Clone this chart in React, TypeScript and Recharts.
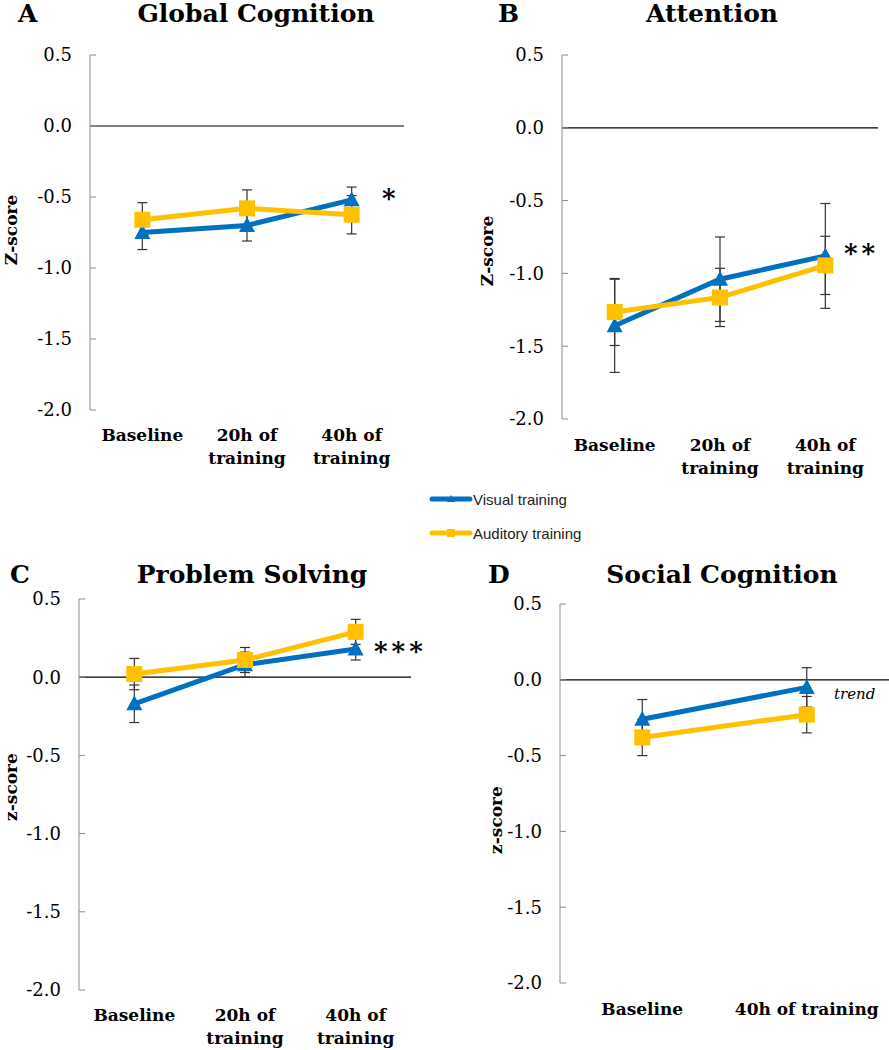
import React from "react";
import { ErrorBar, Line, LineChart, ReferenceLine, XAxis, YAxis } from "recharts";

// 配色与字体（Excel 风格）
const BLUE = "#0070C0";
const GOLD = "#FFC000";
const SERIF = "'DejaVu Serif', serif";

// 横轴类别
const threeTimes = ["Baseline", "20h of\ntraining", "40h of\ntraining"];
const twoTimes = ["Baseline", "40h of training"];
const yTicks = [-2, -1.5, -1, -0.5, 0, 0.5];

// A Global Cognition
const globalVisual = [-0.75, -0.7, -0.52];
const globalVisualErr = [0.12, 0.11, 0.09];
const globalAuditory = [-0.66, -0.58, -0.625];
const globalAuditoryErr = [0.12, 0.13, 0.135];

// B Attention
const attnVisual = [-1.36, -1.04, -0.88];
const attnVisualErr = [0.32, 0.29, 0.36];
const attnAuditory = [-1.265, -1.165, -0.945];
const attnAuditoryErr = [0.23, 0.2, 0.2];

// C Problem Solving
const probVisual = [-0.17, 0.08, 0.18];
const probVisualErr = [0.12, 0.08, 0.07];
const probAuditory = [0.02, 0.11, 0.29];
const probAuditoryErr = [0.1, 0.08, 0.08];

// D Social Cognition
const socialVisual = [-0.26, -0.05];
const socialVisualErr = [0.13, 0.13];
const socialAuditory = [-0.38, -0.23];
const socialAuditoryErr = [0.12, 0.12];

interface Row {
  time: string;
  visual: number;
  visualErr: number;
  auditory: number;
  auditoryErr: number;
}

function buildRows(
  cats: string[],
  vis: number[],
  visErr: number[],
  aud: number[],
  audErr: number[]
): Row[] {
  return cats.map((c, i) => ({
    time: c,
    visual: vis[i],
    visualErr: visErr[i],
    auditory: aud[i],
    auditoryErr: audErr[i],
  }));
}

// 三角形标记（视觉训练）
function TriangleDot(props: any) {
  const { cx, cy, index } = props;
  if (cx == null || cy == null) return <g key={`t-${index}`} />;
  return (
    <path
      key={`t-${index}`}
      d={`M${cx},${cy - 8.5} L${cx + 8},${cy + 6.5} L${cx - 8},${cy + 6.5} Z`}
      fill={BLUE}
    />
  );
}

// 方形标记（听觉训练）
function SquareDot(props: any) {
  const { cx, cy, index } = props;
  if (cx == null || cy == null) return <g key={`s-${index}`} />;
  return <rect key={`s-${index}`} x={cx - 8} y={cy - 8} width={16} height={16} fill={GOLD} />;
}

// 多行横轴标签
function CategoryTick(props: any) {
  const { x, y, payload, firstDy } = props;
  const lines = String(payload.value).split("\n");
  return (
    <text x={x} y={y} textAnchor="middle" fontFamily={SERIF} fontWeight="bold" fontSize={17} fill="#000">
      {lines.map((ln, i) => (
        <tspan key={i} x={x} dy={i === 0 ? firstDy : 23}>
          {ln}
        </tspan>
      ))}
    </text>
  );
}

interface PanelProps {
  left: number;
  top: number;
  width: number;
  height: number;
  margin: { top: number; right: number; bottom: number; left: number };
  xHeight: number;
  labelDy: number;
  data: Row[];
}

function Panel({ left, top, width, height, margin, xHeight, labelDy, data }: PanelProps) {
  const plotWidth = width - margin.left - margin.right - 60;
  const pad = plotWidth / (data.length * 2);
  return (
    <div style={{ position: "absolute", left, top }}>
      <LineChart width={width} height={height} data={data} margin={margin}>
        <XAxis
          dataKey="time"
          type="category"
          axisLine={false}
          tickLine={false}
          tickSize={0}
          tickMargin={0}
          height={xHeight}
          padding={{ left: pad, right: pad }}
          interval={0}
          tick={(p: any) => <CategoryTick {...p} firstDy={labelDy} />}
        />
        <YAxis
          type="number"
          domain={[-2, 0.5]}
          ticks={yTicks}
          interval={0}
          width={60}
          allowDataOverflow
          tickFormatter={(v: number) => v.toFixed(1)}
          axisLine={{ stroke: "#8c8c8c", strokeWidth: 1 }}
          tickLine={{ stroke: "#8c8c8c", strokeWidth: 1 }}
          tickSize={-6}
          tickMargin={24}
          tick={{ fontFamily: SERIF, fontSize: 18, fill: "#000" }}
        />
        <ReferenceLine y={0} stroke="#000" strokeWidth={1.2} />
        <Line
          dataKey="visual"
          stroke={BLUE}
          strokeWidth={5}
          isAnimationActive={false}
          dot={(p: any) => <TriangleDot {...p} />}
          activeDot={false}
        >
          <ErrorBar dataKey="visualErr" direction="y" width={5} stroke="#333" strokeWidth={1.2} />
        </Line>
        <Line
          dataKey="auditory"
          stroke={GOLD}
          strokeWidth={5}
          isAnimationActive={false}
          dot={(p: any) => <SquareDot {...p} />}
          activeDot={false}
        >
          <ErrorBar dataKey="auditoryErr" direction="y" width={5} stroke="#333" strokeWidth={1.2} />
        </Line>
      </LineChart>
    </div>
  );
}

// 标题、显著性标记与图例等文字
function Overlay() {
  const title = { fontFamily: SERIF, fontWeight: "bold" as const, fontSize: 25, fill: "#000" };
  const yLab = { fontFamily: SERIF, fontWeight: "bold" as const, fontSize: 17, fill: "#000" };
  const star = { fontFamily: SERIF, fontWeight: "bold" as const, fontSize: 26, fill: "#000", letterSpacing: 4 };
  const leg = { fontFamily: "'Liberation Sans', sans-serif", fontSize: 15, fill: "#222" };
  return (
    <svg
      width={889}
      height={1050}
      style={{ position: "absolute", left: 0, top: 0, pointerEvents: "none" }}
    >
      <text x={18} y={22} {...title}>A</text>
      <text x={256} y={22} textAnchor="middle" {...title}>Global Cognition</text>
      <text x={498} y={22} {...title}>B</text>
      <text x={712} y={22} textAnchor="middle" {...title}>Attention</text>
      <text x={10} y={583} {...title}>C</text>
      <text x={252} y={583} textAnchor="middle" {...title}>Problem Solving</text>
      <text x={488} y={583} {...title}>D</text>
      <text x={722} y={583} textAnchor="middle" {...title}>Social Cognition</text>

      <text transform="translate(17,230) rotate(-90)" textAnchor="middle" {...yLab}>Z-score</text>
      <text transform="translate(493,251) rotate(-90)" textAnchor="middle" {...yLab}>Z-score</text>
      <text transform="translate(17,787) rotate(-90)" textAnchor="middle" {...yLab}>z-score</text>
      <text transform="translate(502,820) rotate(-90)" textAnchor="middle" {...yLab}>z-score</text>

      <text x={382} y={207} {...star}>*</text>
      <text x={844} y={262} {...star}>**</text>
      <text x={374} y={660} {...star}>***</text>
      <text x={834} y={699} fontFamily={SERIF} fontStyle="italic" fontSize={15} fill="#000">trend</text>

      <line x1={432} y1={499} x2={470} y2={499} stroke={BLUE} strokeWidth={5} strokeLinecap="round" />
      <path d="M451,495 L455,502 L447,502 Z" fill={BLUE} />
      <text x={473} y={505} {...leg}>Visual training</text>
      <line x1={432} y1={533} x2={470} y2={533} stroke={GOLD} strokeWidth={5} strokeLinecap="round" />
      <rect x={447} y={529} width={8} height={8} fill={GOLD} />
      <text x={473} y={539} {...leg}>Auditory training</text>
    </svg>
  );
}

export default function App() {
  const dataA = buildRows(threeTimes, globalVisual, globalVisualErr, globalAuditory, globalAuditoryErr);
  const dataB = buildRows(threeTimes, attnVisual, attnVisualErr, attnAuditory, attnAuditoryErr);
  const dataC = buildRows(threeTimes, probVisual, probVisualErr, probAuditory, probAuditoryErr);
  const dataD = buildRows(twoTimes, socialVisual, socialVisualErr, socialAuditory, socialAuditoryErr);

  return (
    <div style={{ position: "absolute", left: 0, top: 0, width: 889, height: 1050, background: "#fff" }}>
      <Panel left={0} top={0} width={430} height={480} margin={{ top: 55, right: 26, bottom: 10, left: 30 }} xHeight={60} labelDy={31} data={dataA} />
      <Panel left={440} top={0} width={449} height={480} margin={{ top: 55, right: 11, bottom: 1, left: 62 }} xHeight={60} labelDy={32} data={dataB} />
      <Panel left={0} top={550} width={440} height={500} margin={{ top: 49, right: 29, bottom: 5, left: 19 }} xHeight={55} labelDy={31} data={dataC} />
      <Panel left={470} top={550} width={419} height={500} margin={{ top: 54, right: 0, bottom: 12, left: 30 }} xHeight={55} labelDy={32} data={dataD} />
      <Overlay />
    </div>
  );
}
